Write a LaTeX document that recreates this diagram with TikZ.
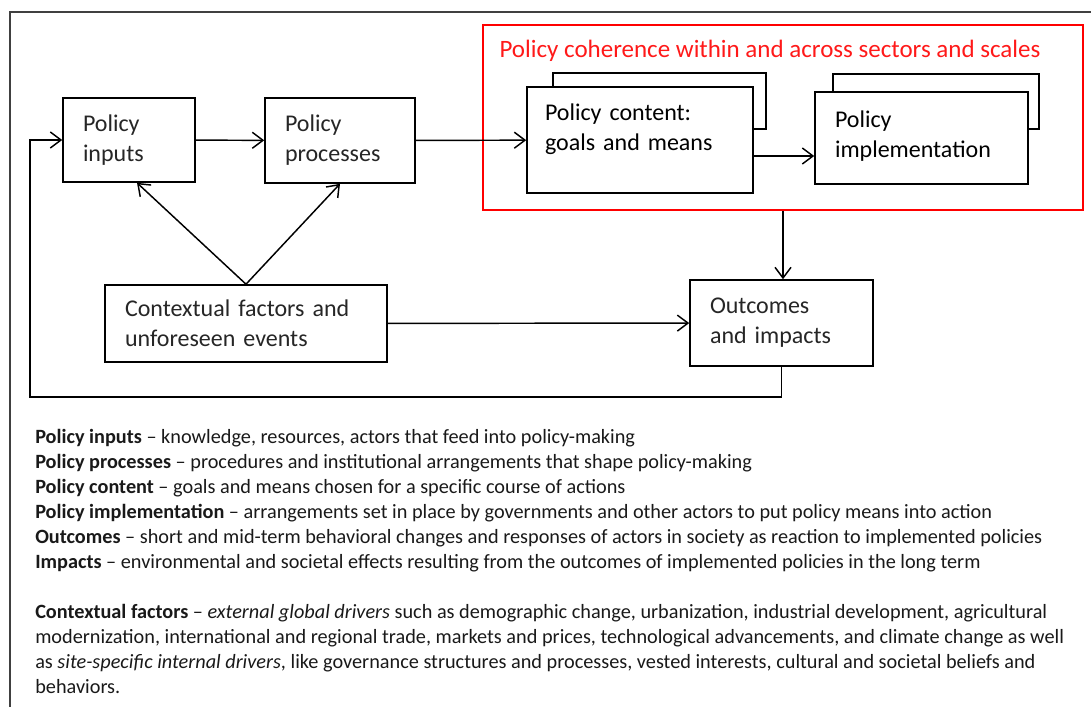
\documentclass[tikz,border=0pt]{standalone}
\usepackage{fontspec}
\setmainfont{Carlito}
\usetikzlibrary{arrows.meta}

\begin{document}
\begin{tikzpicture}[x=0.75pt, y=-0.75pt,
	pbox/.style={draw, line width=1.2pt, fill=white, align=left, inner xsep=15pt,
		text=black!85, font=\fontsize{18}{22.5}\selectfont},
	bkbox/.style={draw, line width=1.2pt, fill=white, inner sep=0pt},
	flow/.style={-{Straight Barb[length=8pt, width=12pt, line width=1.1pt]}, line width=1.1pt}]
	\useasboundingbox (0,0) rectangle (1091,706);
	\draw [line width=1.4pt, black!75] (10,720) -- (10,12) -- (1100,12);

	\node [draw=red, line width=1.8pt, minimum width=450pt, minimum height=138.75pt] (coherence) at (783,117.5) {};
	\node [text=red!90, font=\fontsize{18.75}{22.5}\selectfont] (cohtitle) at (770,51) {Policy coherence within and across sectors and scales};

	\node [bkbox, minimum width=159.75pt, minimum height=42pt] (contentbk) at (659.5,101) {};
	\node [bkbox, minimum width=154.5pt, minimum height=41.25pt] (implbk) at (936,101.5) {};

	\node [pbox, text width=69pt, minimum height=63pt] (inputs) at (129,140) {Policy\\inputs};
	\node [pbox, text width=82.5pt, minimum height=63.75pt] (processes) at (340,140.5) {Policy\\processes};
	\node [pbox, text width=142.5pt, inner xsep=13.5pt, minimum height=79.5pt, text=black] (content) at (640,140) {Policy content:\\goals and means\\[-4pt]\mbox{}};
	\node [pbox, text width=129.75pt, minimum height=69pt, text=black] (impl) at (921.5,138) {Policy\\implementation\\[-16.5pt]\mbox{}};
	\node [pbox, text width=181.5pt, minimum height=57.75pt] (context) at (246,323.5) {Contextual factors and\\unforeseen events};
	\node [pbox, text width=107.25pt, minimum height=64.5pt] (outcomes) at (781.5,323) {Outcomes\\and impacts};

	\coordinate (loopcorner) at (30,397);
	\draw [flow] (inputs) -- (processes);
	\draw [flow] (processes) -- (content);
	\draw [flow] ([yshift=-12pt]content.east) -- ([yshift=-12pt]content.east -| impl.west);
	\draw [flow] (coherence.south) -- (coherence.south |- outcomes.north);
	\draw [flow] (context) -- (outcomes);
	\draw [flow] (context.north) -- ([xshift=6pt]inputs.south);
	\draw [flow] (context.north) -- (processes.south);
	\draw [flow] (outcomes.south) |- (loopcorner) |- (inputs.west);

	\node [anchor=north west, inner sep=0pt, align=left, text=black!90,
		font=\fontsize{15.2}{18.75}\selectfont] (legend) at (35,429) {%
		\textbf{Policy inputs} – knowledge, resources, actors that feed into policy-making\\
		\textbf{Policy processes} – procedures and institutional arrangements that shape policy-making\\
		\textbf{Policy content} – goals and means chosen for a specific course of actions\\
		\textbf{Policy implementation} – arrangements set in place by governments and other actors to put policy means into action\\
		\textbf{Outcomes} – short and mid-term behavioral changes and responses of actors in society as reaction to implemented policies\\
		\textbf{Impacts} – environmental and societal effects resulting from the outcomes of implemented policies in the long term\\[18.75pt]
		\textbf{Contextual factors} – \textit{external global drivers} such as demographic change, urbanization, industrial development, agricultural\\
		modernization, international and regional trade, markets and prices, technological advancements, and climate change as well\\
		as \textit{site-specific internal drivers}, like governance structures and processes, vested interests, cultural and societal beliefs and\\
		behaviors.};
\end{tikzpicture}
\end{document}
